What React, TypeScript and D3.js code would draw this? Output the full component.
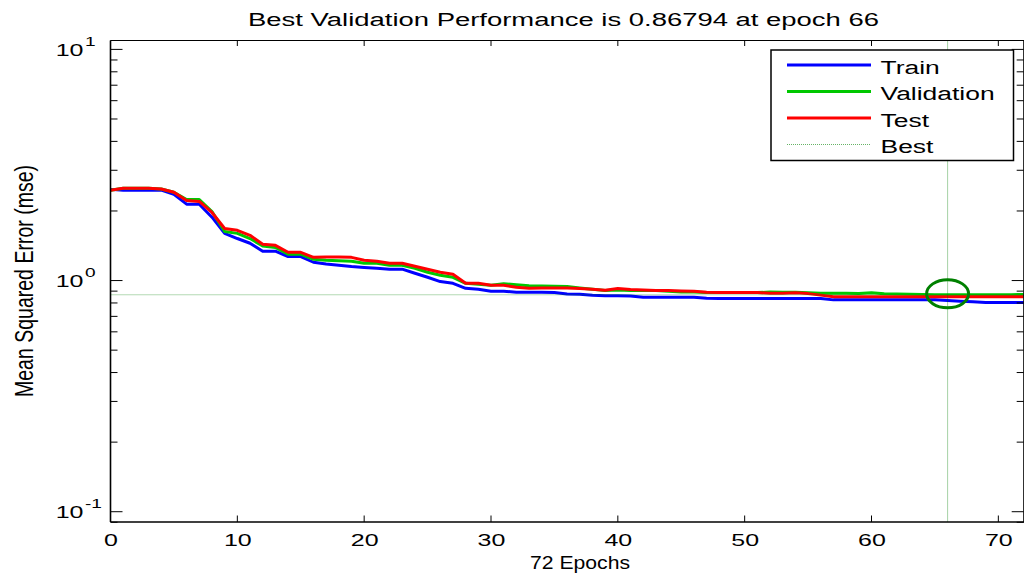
import React from "react";
import * as d3 from "d3";

// ---- data ----
const train = [2.48, 2.46, 2.46, 2.46, 2.46, 2.36, 2.14, 2.14, 1.88, 1.60,
  1.52, 1.45, 1.34, 1.34, 1.27, 1.27, 1.20, 1.18, 1.165, 1.15,
  1.14, 1.13, 1.12, 1.12, 1.075, 1.033, 0.99, 0.973, 0.926, 0.917,
  0.899, 0.899, 0.89, 0.89, 0.89, 0.887, 0.875, 0.873, 0.864, 0.86,
  0.86, 0.858, 0.847, 0.847, 0.847, 0.847, 0.847, 0.839, 0.836, 0.836,
  0.836, 0.836, 0.836, 0.836, 0.836, 0.836, 0.836, 0.825, 0.825, 0.825,
  0.825, 0.825, 0.825, 0.825, 0.825, 0.825, 0.82, 0.814, 0.809, 0.804,
  0.804, 0.804, 0.804];
const validation = [2.46, 2.51, 2.51, 2.51, 2.49, 2.41, 2.24, 2.24, 1.99, 1.63,
  1.60, 1.52, 1.41, 1.39, 1.30, 1.30, 1.236, 1.224, 1.218, 1.212,
  1.188, 1.188, 1.165, 1.165, 1.13, 1.086, 1.054, 1.033, 0.973, 0.964,
  0.954, 0.969, 0.959, 0.95, 0.948, 0.945, 0.942, 0.929, 0.917, 0.905,
  0.91, 0.905, 0.905, 0.905, 0.899, 0.892, 0.892, 0.887, 0.887, 0.887,
  0.887, 0.887, 0.892, 0.89, 0.89, 0.885, 0.881, 0.881, 0.881, 0.88,
  0.885, 0.876, 0.874, 0.872, 0.871, 0.869, 0.86794, 0.8682, 0.8685, 0.8688,
  0.869, 0.8692, 0.8695];
const test = [2.456, 2.51, 2.51, 2.51, 2.49, 2.41, 2.22, 2.20, 1.97, 1.68,
  1.65, 1.57, 1.435, 1.42, 1.325, 1.325, 1.26, 1.265, 1.265, 1.26,
  1.224, 1.212, 1.188, 1.188, 1.153, 1.119, 1.086, 1.065, 0.973, 0.973,
  0.954, 0.954, 0.935, 0.926, 0.929, 0.929, 0.929, 0.923, 0.917, 0.908,
  0.923, 0.914, 0.91, 0.905, 0.905, 0.902, 0.899, 0.89, 0.887, 0.887,
  0.887, 0.887, 0.881, 0.881, 0.885, 0.878, 0.865, 0.852, 0.852, 0.852,
  0.852, 0.852, 0.852, 0.852, 0.852, 0.852, 0.852, 0.852, 0.852, 0.852,
  0.852, 0.852, 0.852];
const bestEpoch = 66;
const bestValue = 0.86794;
const xTicks = [0, 10, 20, 30, 40, 50, 60, 70];
const yMajor = [0.1, 1, 10];
const yMajorExp = ["-1", "0", "1"];
const yMinor = [0.09, 0.2, 0.3, 0.4, 0.5, 0.6, 0.7, 0.8, 0.9, 2, 3, 4, 5, 6, 7, 8, 9];
const seriesNames = ["Train", "Validation", "Test", "Best"];
const seriesColors = ["#0000ff", "#00c800", "#ff0000", "#008000"];
const titleText = "Best Validation Performance is 0.86794 at epoch 66";
const xLabel = "72 Epochs";
const yLabel = "Mean Squared Error  (mse)";

const FONT = "'Liberation Sans', Arial, sans-serif";
const SX = 1.47;

const L = 110.5, R = 1023.7, T = 40.5, B = 522;

function SText({ x, y, size, anchor = "start", children, fill = "#000" }: any) {
  return (
    <g transform={`translate(${x},${y}) scale(${SX},1)`}>
      <text x={0} y={0} fontSize={size} fontFamily={FONT} textAnchor={anchor} fill={fill}>
        {children}
      </text>
    </g>
  );
}

export default function App() {
  const x = d3.scaleLinear().domain([0, 72]).range([L, R]);
  const y = d3.scaleLog().domain([Math.pow(10, -1.0445), Math.pow(10, 1.0385)]).range([B, T]);
  const line = d3.line<number>().x((_, i) => x(i)).y((d) => y(d));
  const series = [train, validation, test];

  return (
    <svg width={1024} height={574} style={{ position: "absolute", left: 0, top: 0, background: "#fff" }}>
      <rect x={0} y={0} width={1024} height={574} fill="#fff" />
      {/* title */}
      <text x={248} y={26} fontSize={18} fontFamily={FONT} textLength={631} lengthAdjust="spacingAndGlyphs">{titleText}</text>

      {/* series */}
      {series.map((s, i) => (
        <path key={i} d={line(s) || ""} fill="none" stroke={seriesColors[i]} strokeWidth={3} strokeLinejoin="round" />
      ))}

      {/* best lines */}
      <line x1={L} x2={R} y1={y(bestValue)} y2={y(bestValue)} stroke="#008000" strokeOpacity={0.6} strokeWidth={1} strokeDasharray="1 1" />
      <line x1={x(bestEpoch)} x2={x(bestEpoch)} y1={T} y2={B} stroke="#008000" strokeOpacity={0.7} strokeWidth={1} strokeDasharray="1 1" />
      <ellipse cx={x(bestEpoch)} cy={y(bestValue) - 1} rx={21} ry={14} fill="none" stroke="#008000" strokeWidth={3} />

      {/* axes box */}
      <line x1={L} x2={L} y1={T} y2={B} stroke="#000" strokeWidth={1.6} />
      <line x1={L} x2={1024} y1={B} y2={B} stroke="#000" strokeWidth={1.6} />
      <line x1={L} x2={1024} y1={T} y2={T} stroke="#000" strokeWidth={1} />
      <line x1={R} x2={R} y1={T} y2={B} stroke="#000" strokeWidth={1} />

      {/* x ticks */}
      {xTicks.map((t) => (
        <g key={t}>
          <line x1={x(t)} x2={x(t)} y1={B} y2={B - 6.5} stroke="#000" strokeWidth={1} />
          <line x1={x(t)} x2={x(t)} y1={T} y2={T + 5.5} stroke="#000" strokeWidth={1} />
          <SText x={x(t) + 0.5} y={546} size={17} anchor="middle">{String(t)}</SText>
        </g>
      ))}

      {/* y ticks */}
      {yMajor.map((t, i) => (
        <g key={t}>
          <line x1={L} x2={L + 12} y1={y(t)} y2={y(t)} stroke="#000" strokeWidth={1} />
          <line x1={R} x2={R - 12} y1={y(t)} y2={y(t)} stroke="#000" strokeWidth={1} />
          <SText x={83.5} y={y(t) + 6.5} size={17} anchor="end">10</SText>
          <SText x={85} y={y(t) - 3.5} size={13}>{yMajorExp[i]}</SText>
        </g>
      ))}
      {yMinor.map((t) => (
        <g key={t}>
          <line x1={L} x2={L + 7} y1={y(t)} y2={y(t)} stroke="#000" strokeWidth={1} />
          <line x1={R} x2={R - 7} y1={y(t)} y2={y(t)} stroke="#000" strokeWidth={1} />
        </g>
      ))}

      {/* axis labels */}
      <text x={530} y={569} fontSize={18} fontFamily={FONT} textLength={100} lengthAdjust="spacingAndGlyphs">{xLabel}</text>
      <g transform={`translate(33,${397}) rotate(-90)`}>
        <text x={0} y={0} fontSize={18} fontFamily={FONT} textLength={232} lengthAdjust="spacingAndGlyphs"
          transform="scale(1,1.4)">{yLabel}</text>
      </g>

      {/* legend */}
      <rect x={771} y={50} width={242.5} height={110.5} fill="#fff" stroke="#000" strokeWidth={1.5} />
      {seriesNames.map((n, i) => {
        const ly = 65 + i * 26.5;
        return (
          <g key={n}>
            {i < 3 ? (
              <line x1={787} x2={871} y1={ly} y2={ly} stroke={seriesColors[i]} strokeWidth={3} />
            ) : (
              <line x1={787} x2={871} y1={ly} y2={ly} stroke="#008000" strokeOpacity={0.6} strokeWidth={1} strokeDasharray="1 1" />
            )}
            <SText x={880.5} y={ly + 8.5} size={18}>{n}</SText>
          </g>
        );
      })}
    </svg>
  );
}
